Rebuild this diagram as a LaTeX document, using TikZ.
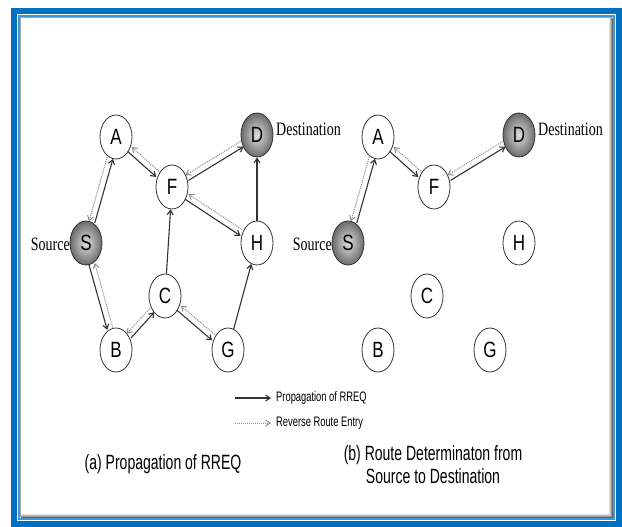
\documentclass[tikz,border=0pt]{standalone}
\usepackage{fontspec}
\setmainfont{Liberation Serif}
\setsansfont{Liberation Sans}
\usepackage{graphicx}
\usetikzlibrary{calc,arrows.meta,shapes.geometric}
\definecolor{frameblue}{RGB}{0,112,192}
\definecolor{lineblue}{RGB}{60,150,220}
\newcommand\tall[2][1.3]{\scalebox{1}[#1]{#2}}
\newcommand\slim[1]{\scalebox{0.85}[1.25]{#1}}
\tikzset{
  host/.style={ellipse, draw=black!80, line width=0.8pt, fill=white, minimum width=32pt, minimum height=44pt, inner sep=0pt, font=\sffamily\fontsize{17}{17}\selectfont},
  endhost/.style={host, inner color=gray!25, outer color=black!58},
  prop/.style={-{Straight Barb[length=4.5pt,width=6pt]}, line width=1.1pt, black!80},
  rev/.style={-{Straight Barb[length=4.5pt,width=6pt]}, line width=1pt, densely dotted, black!45},
  tag/.style={font=\fontsize{14}{14}\selectfont, inner sep=0pt},
  key/.style={font=\sffamily\fontsize{11}{11}\selectfont, inner sep=0pt, anchor=west},
  caption/.style={font=\sffamily\fontsize{16.5}{19}\selectfont, inner sep=0pt, align=center}
}
% solid request one way, dotted reverse entry the other way
\newcommand\route[2]{%
  \path (#1) -- coordinate[pos=0] (r1) coordinate[pos=1] (r2) (#2);
  \draw[prop] ($(r1)!3pt!-90:(r2)$) -- ($(r2)!3pt!90:(r1)$);
  \draw[rev] ($(r2)!3pt!-90:(r1)$) -- ($(r1)!3pt!90:(r2)$);
}

\begin{document}
\begin{tikzpicture}[x=1pt,y=-1pt]
	\useasboundingbox (0,0) rectangle (622,527);
	
	%%%%% frame %%%%%
	\fill[frameblue] (11,8) rectangle (622,527);
	\fill[white] (17,14) rectangle (616,521);
	\fill[lineblue] (18,15) rectangle (615,520);
	\fill[white] (20,17) rectangle (613,518);
	\draw[black!35] (20.5,517) -- (20.5,17.5) -- (612,17.5);
	\foreach \i/\c in {0/60,1/40,2/25,3/12} {
		\draw[black!\c] (21,517.5-\i) -- (612.5-\i,517.5-\i) -- (612.5-\i,18);
	}
	
	%%%%% (a) propagation of RREQ %%%%%
	\node[host] (a) at (116,137) {\tall{A}};
	\node[endhost] (d) at (257,135) {\tall{D}};
	\node[host] (f) at (172,187) {\tall{F}};
	\node[endhost] (s) at (86,243) {\tall{S}};
	\node[host] (h) at (257,243) {\tall{H}};
	\node[host] (c) at (165,296) {\tall{C}};
	\node[host] (b) at (116,350) {\tall{B}};
	\node[host] (g) at (228,350) {\tall{G}};
	
	\node[tag, anchor=west] (dl) at (276,129) {\tall[1.35]{Destination}};
	\node[tag, anchor=east] (sl) at (70,244) {\tall[1.35]{Source}};
	
	\route{s}{a}
	\route{a}{f}
	\route{f}{d}
	\route{f}{h}
	\route{s}{b}
	\route{b}{c}
	\route{c}{g}
	\draw[prop] (c) -- (f);
	\draw[prop] (h) -- (d);
	\draw[prop] (g) -- (h);
	
	%%%%% (b) route determination %%%%%
	\node[host] (a2) at (378,137) {\tall{A}};
	\node[endhost] (d2) at (519,135) {\tall{D}};
	\node[host] (f2) at (434,187) {\tall{F}};
	\node[endhost] (s2) at (348,243) {\tall{S}};
	\node[host] (h2) at (519,243) {\tall{H}};
	\node[host] (c2) at (427,296) {\tall{C}};
	\node[host] (b2) at (378,350) {\tall{B}};
	\node[host] (g2) at (490,350) {\tall{G}};
	
	\node[tag, anchor=west] (dl2) at (538,129) {\tall[1.35]{Destination}};
	\node[tag, anchor=east] (sl2) at (332,244) {\tall[1.35]{Source}};
	
	\route{s2}{a2}
	\route{a2}{f2}
	\route{f2}{d2}
	
	%%%%% legend %%%%%
	\coordinate (k1) at (235,398);
	\coordinate (k2) at (271,398);
	\coordinate (k3) at (235,423);
	\coordinate (k4) at (271,423);
	\draw[prop] (k1) -- (k2);
	\draw[rev] (k3) -- (k4);
	\node[key] (kp) at (276,398) {\slim{Propagation of RREQ}};
	\node[key] (kr) at (276,423) {\slim{Reverse Route Entry}};
	
	%%%%% captions %%%%%
	\node[caption] (capa) at (163,464) {\slim{(a) Propagation of RREQ}};
	\node[caption] (capb) at (433,465) {\slim{(b) Route Determinaton from}\\[3pt]\slim{Source to Destination}};
	
\end{tikzpicture}
\end{document}
